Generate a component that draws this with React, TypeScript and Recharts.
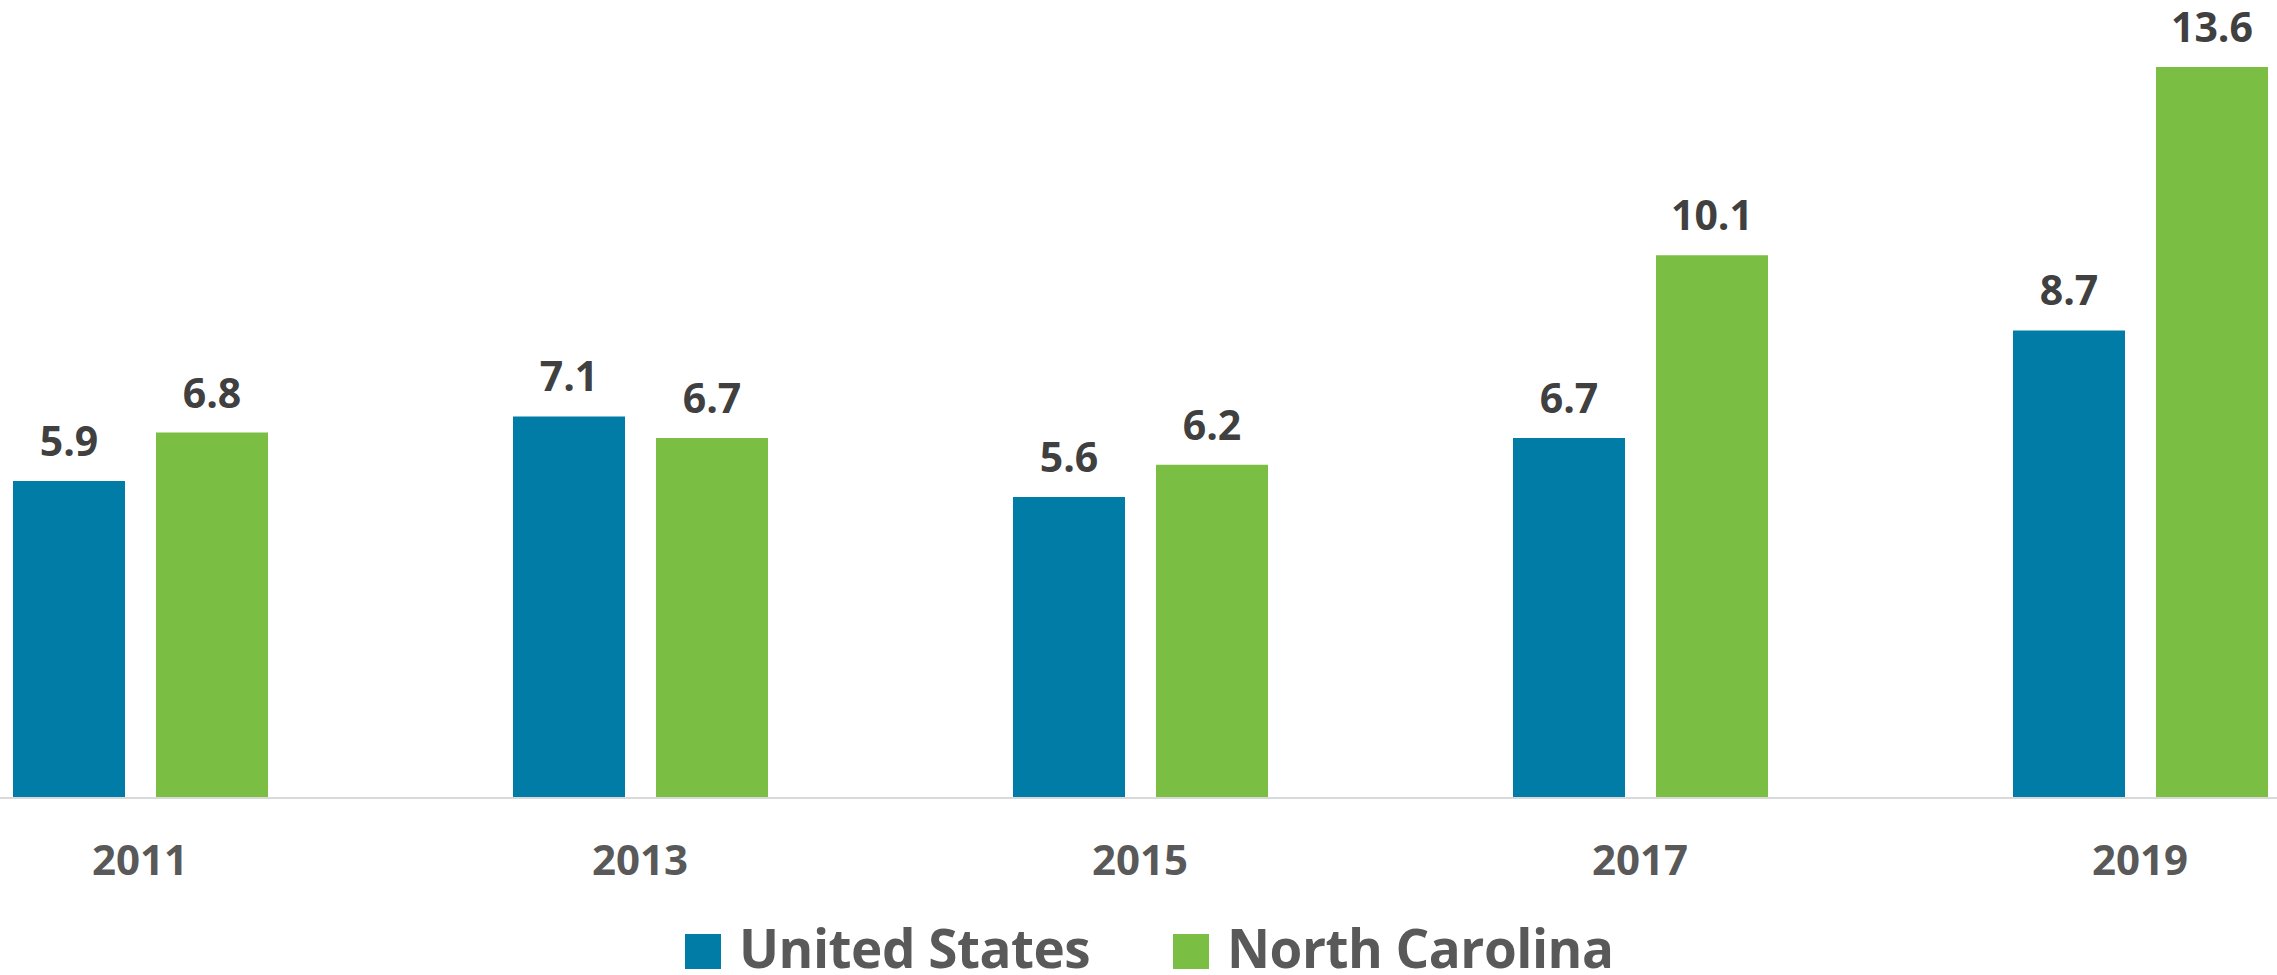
import { BarChart, Bar, XAxis, YAxis, LabelList } from 'recharts';

const years = ['2011', '2013', '2015', '2017', '2019'];
const unitedStates = [5.9, 7.1, 5.6, 6.7, 8.7];
const northCarolina = [6.8, 6.7, 6.2, 10.1, 13.6];

const seriesNames = ['United States', 'North Carolina'];
const seriesColors = ['#007CA6', '#7ABF44'];

const chartData = years.map((year, i) => ({
  year,
  us: unitedStates[i],
  nc: northCarolina[i],
}));

const FONT = '"Open Sans", "Noto Sans", sans-serif';

const ValueLabel = ({ x, y, width, value }: any) => (
  <text
    x={x + width / 2}
    y={y - 25}
    textAnchor="middle"
    fill="#404040"
    fontFamily={FONT}
    fontWeight={700}
    fontSize={41}
  >
    {value}
  </text>
);

const YearTick = ({ x, y, payload }: any) => (
  <text
    x={x}
    y={y + 77}
    textAnchor="middle"
    fill="#595959"
    fontFamily={FONT}
    fontWeight={700}
    fontSize={42}
  >
    {payload.value}
  </text>
);

function LegendItem({ name, color, left }: { name: string; color: string; left: number }) {
  return (
    <div
      style={{
        position: 'absolute',
        left,
        top: 917,
        height: 60,
        display: 'flex',
        alignItems: 'center',
      }}
    >
      <div style={{ width: 36, height: 35, background: color, marginTop: 9, marginRight: 18 }} />
      <span
        style={{
          fontFamily: FONT,
          fontWeight: 700,
          fontSize: 53,
          color: '#595959',
          lineHeight: 1,
          letterSpacing: -0.5,
        }}
      >
        {name}
      </span>
    </div>
  );
}

export default function App() {
  return (
    <div
      style={{
        position: 'absolute',
        left: 0,
        top: 0,
        width: 2277,
        height: 975,
        overflow: 'hidden',
        background: '#fff',
      }}
    >
      <div style={{ position: 'absolute', left: -110.5, top: 0 }}>
        <BarChart
          width={2500}
          height={975}
          data={chartData}
          margin={{ top: 45.5, right: 0, left: 0, bottom: 77 }}
          barSize={112}
          barGap={31}
        >
          <XAxis
            dataKey="year"
            height={100}
            tickLine={false}
            tickSize={0}
            tickMargin={0}
            axisLine={{ stroke: '#D9D9D9', strokeWidth: 2 }}
            tick={<YearTick />}
          />
          <YAxis hide domain={[0, 14]} />
          <Bar dataKey="us" name={seriesNames[0]} fill={seriesColors[0]} isAnimationActive={false}>
            <LabelList dataKey="us" content={<ValueLabel />} />
          </Bar>
          <Bar dataKey="nc" name={seriesNames[1]} fill={seriesColors[1]} isAnimationActive={false}>
            <LabelList dataKey="nc" content={<ValueLabel />} />
          </Bar>
        </BarChart>
      </div>
      <LegendItem name={seriesNames[0]} color={seriesColors[0]} left={685} />
      <LegendItem name={seriesNames[1]} color={seriesColors[1]} left={1173} />
    </div>
  );
}
